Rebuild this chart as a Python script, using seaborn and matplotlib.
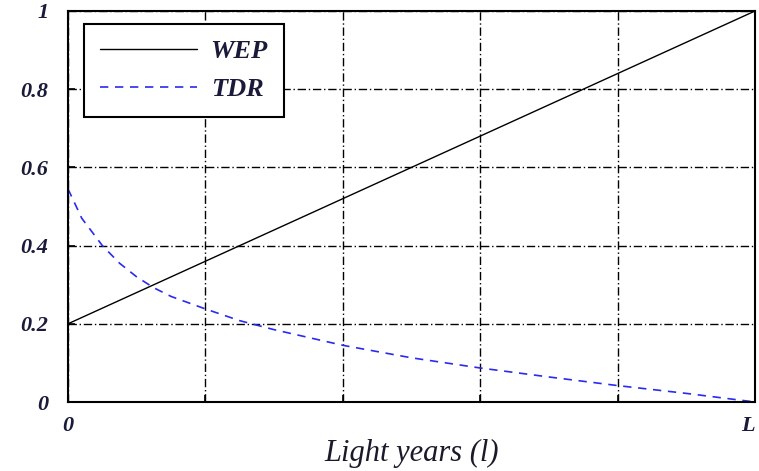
import numpy as np
import pandas as pd
import seaborn as sns
import matplotlib
matplotlib.use("Agg")
import matplotlib.pyplot as plt

# Data
wep_x = [0.0, 1.0]
wep_y = [0.2, 1.0]
tdr_x = [0.0, 0.02, 0.05, 0.075, 0.1, 0.125, 0.15, 0.2, 0.25, 0.3, 0.4, 0.5, 0.6, 0.7, 0.8, 0.9, 1.0]
tdr_y = [0.545, 0.47, 0.40, 0.355, 0.32, 0.292, 0.27, 0.238, 0.208, 0.185, 0.145, 0.113, 0.087, 0.064, 0.042, 0.022, 0.0]
x_tick_labels = ["0", "", "", "", "", "L"]
y_ticks = [0, 0.2, 0.4, 0.6, 0.8, 1]
y_tick_labels = ["0", "0.2", "0.4", "0.6", "0.8", "1"]

sns.set_theme(style="white")
plt.rcParams["font.family"] = ["Liberation Serif", "DejaVu Serif"]

df = pd.concat([
    pd.DataFrame({"x": wep_x, "y": wep_y, "series": "WEP"}),
    pd.DataFrame({"x": tdr_x, "y": tdr_y, "series": "TDR"}),
])

fig = plt.figure(figsize=(7.59, 4.71), dpi=100)
ax = fig.add_axes([68 / 759, 1 - 402 / 471, (755 - 68) / 759, (402 - 11) / 471])

sns.lineplot(data=df[df.series == "WEP"], x="x", y="y", ax=ax, color="black",
             linewidth=1.0, label="WEP", sort=True)
sns.lineplot(data=df[df.series == "TDR"], x="x", y="y", ax=ax, color="#2a2af0",
             linewidth=1.2, linestyle=(0, (5, 4)), label="TDR", sort=True)

ax.set_xlim(0, 1)
ax.set_ylim(0, 1)
ax.set_xticks([0, 0.2, 0.4, 0.6, 0.8, 1.0])
ax.set_xticklabels(x_tick_labels)
ax.set_yticks(y_ticks)
ax.set_yticklabels(y_tick_labels)

for lbl in ax.get_xticklabels() + ax.get_yticklabels():
    lbl.set_fontstyle("italic")
    lbl.set_fontweight("bold")
    lbl.set_fontsize(16)
    lbl.set_color("#1a1a3a")

# keep the right-end "L" label inside the canvas
ax.get_xticklabels()[-1].set_horizontalalignment("right")

ax.tick_params(axis="both", direction="in", length=5, width=1.2, color="black",
               left=True, bottom=True)
ax.tick_params(axis="y", pad=14)
ax.tick_params(axis="x", pad=10)

ax.grid(True, color="black", linestyle=(0, (6, 2, 1, 2)), linewidth=1.0)
for s in ax.spines.values():
    s.set_color("black")
    s.set_linewidth(1.5)

ax.set_xlabel("Light years (l)", fontsize=22, fontstyle="italic", color="#1a1a2a", labelpad=2)
ax.set_ylabel("")

leg = ax.legend(loc="upper left", bbox_to_anchor=(16 / 687, 1 - 13 / 391),
                fontsize=19, frameon=True, fancybox=False, framealpha=1,
                edgecolor="black", handlelength=3.7, handletextpad=0.5,
                borderpad=0.6, labelspacing=0.55, borderaxespad=0)
leg.get_frame().set_linewidth(1.5)
for t in leg.get_texts():
    t.set_fontstyle("italic")
    t.set_fontweight("bold")
    t.set_color("#1a1a3a")

fig.savefig("out.png", dpi=100)
